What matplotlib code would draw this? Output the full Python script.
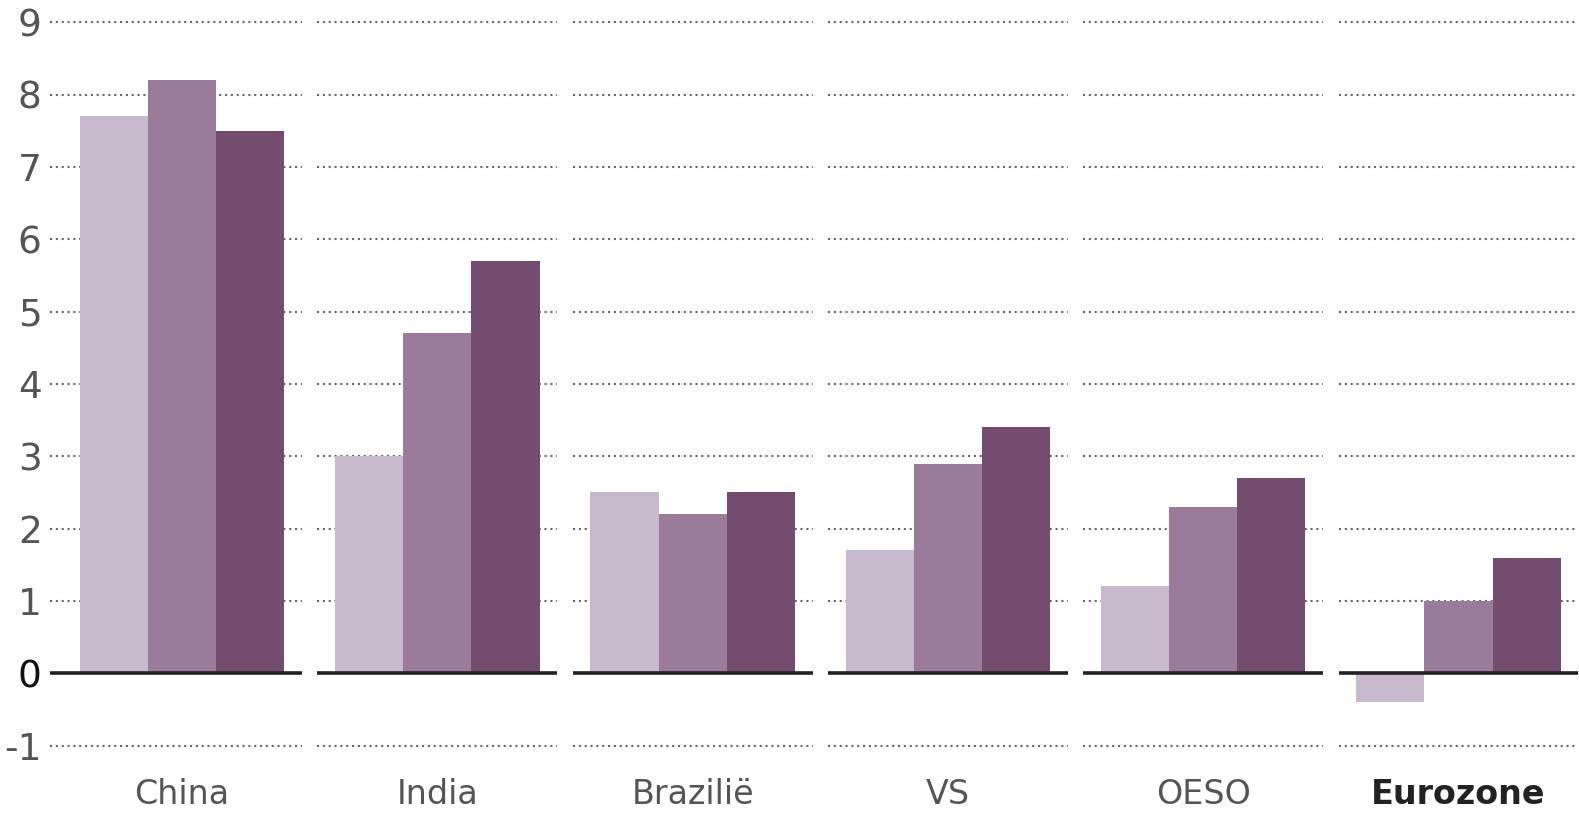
import matplotlib
matplotlib.use("Agg")
import matplotlib.pyplot as plt
import numpy as np

# === Data ===
categories = ["China", "India", "Brazilië", "VS", "OESO", "Eurozone"]
series_a = [7.7, 3.0, 2.5, 1.7, 1.2, -0.4]   # lightest
series_b = [8.2, 4.7, 2.2, 2.9, 2.3, 1.0]    # middle
series_c = [7.5, 5.7, 2.5, 3.4, 2.7, 1.6]    # darkest
y_ticks = [-1, 0, 1, 2, 3, 4, 5, 6, 7, 8, 9]

colors = ["#c9b9cd", "#9a7b99", "#744c6f"]
bar_w = 0.267

fig = plt.figure(figsize=(15.79, 8.13), dpi=100)
ax = fig.add_axes([50 / 1579, 0.074, 1 - 50 / 1579, 0.9075])

x = np.arange(len(categories))
ax.set_xlim(-0.517, 5.472)
ax.set_ylim(-1.1, 9.1)

# dotted grid segments, one per group
for i in x:
    left = i - 0.47 if i > 0 else -0.517
    for yv in y_ticks:
        if yv == 0:
            continue
        ax.hlines(yv, left, i + 0.47, colors="#666666", linestyles=(0, (1, 1.8)),
                  linewidth=1.5, zorder=1)

for k, vals in enumerate([series_a, series_b, series_c]):
    ax.bar(x + (k - 1) * bar_w, vals, width=bar_w, color=colors[k], zorder=2)

# zero baseline, broken per group
for i in x:
    left = i - 0.47 if i > 0 else -0.517
    ax.hlines(0, left, i + 0.47, colors="#222222", linewidth=2.6, zorder=3)

for s in ax.spines.values():
    s.set_visible(False)

ax.set_yticks(y_ticks)
ax.set_yticklabels([str(v) for v in y_ticks], fontsize=27, color="#555555")
ax.get_yticklabels()[1].set_color("#111111")
ax.tick_params(axis="y", length=0, pad=6)

ax.set_xticks(x)
ax.set_xticklabels(categories, fontsize=24, color="#555555")
ax.get_xticklabels()[-1].set_fontweight("bold")
ax.get_xticklabels()[-1].set_color("#222222")
ax.tick_params(axis="x", length=0, pad=18)

fig.savefig("out.png", dpi=100)
